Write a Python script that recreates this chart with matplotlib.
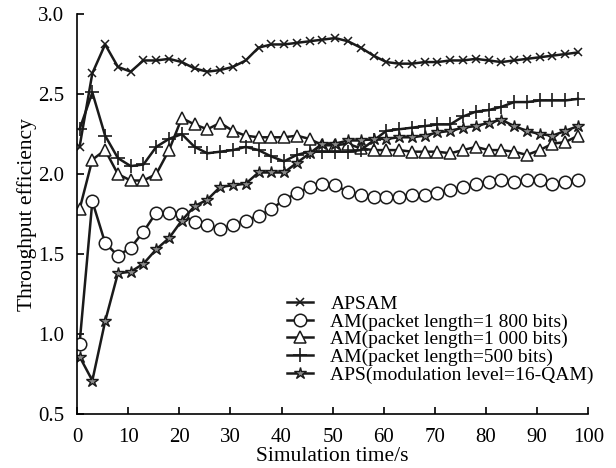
import matplotlib
matplotlib.use('Agg')
import matplotlib.pyplot as plt

plt.rcParams['font.family'] = ['Liberation Serif', 'DejaVu Serif']

# simulation time of each sample (s)
time_s = [0.5, 3, 5.5, 8, 10.5, 13, 15.5, 18, 20.5, 23,
          25.5, 28, 30.5, 33, 35.5, 38, 40.5, 43, 45.5, 48,
          50.5, 53, 55.5, 58, 60.5, 63, 65.5, 68, 70.5, 73,
          75.5, 78, 80.5, 83, 85.5, 88, 90.5, 93, 95.5, 98]

apsam = [2.17, 2.63, 2.81, 2.67, 2.64, 2.71, 2.71, 2.72, 2.70, 2.66,
         2.64, 2.65, 2.67, 2.71, 2.79, 2.81, 2.81, 2.82, 2.83, 2.84,
         2.85, 2.83, 2.79, 2.74, 2.70, 2.69, 2.69, 2.70, 2.70, 2.71,
         2.71, 2.72, 2.71, 2.70, 2.71, 2.72, 2.73, 2.74, 2.75, 2.76]

am_1800 = [0.94, 1.83, 1.57, 1.49, 1.54, 1.64, 1.76, 1.76, 1.75, 1.70,
           1.68, 1.66, 1.68, 1.71, 1.74, 1.78, 1.84, 1.88, 1.92, 1.94,
           1.93, 1.89, 1.87, 1.86, 1.86, 1.86, 1.87, 1.87, 1.88, 1.90,
           1.92, 1.94, 1.95, 1.96, 1.95, 1.96, 1.96, 1.94, 1.95, 1.96]

am_1000 = [1.78, 2.09, 2.15, 2.00, 1.96, 1.96, 2.00, 2.15, 2.35, 2.31,
           2.28, 2.32, 2.27, 2.24, 2.23, 2.23, 2.23, 2.24, 2.22, 2.18,
           2.18, 2.19, 2.16, 2.15, 2.15, 2.15, 2.14, 2.14, 2.14, 2.13,
           2.15, 2.17, 2.15, 2.15, 2.14, 2.12, 2.15, 2.19, 2.20, 2.24]

am_500 = [2.28, 2.51, 2.24, 2.10, 2.05, 2.06, 2.17, 2.22, 2.25, 2.17,
          2.13, 2.14, 2.15, 2.17, 2.15, 2.11, 2.08, 2.12, 2.14, 2.14,
          2.14, 2.14, 2.15, 2.21, 2.27, 2.28, 2.29, 2.30, 2.31, 2.31,
          2.36, 2.39, 2.40, 2.42, 2.45, 2.45, 2.46, 2.46, 2.46, 2.47]

aps_16qam = [0.86, 0.71, 1.08, 1.38, 1.39, 1.44, 1.53, 1.60, 1.71, 1.80,
             1.84, 1.92, 1.93, 1.94, 2.01, 2.01, 2.01, 2.07, 2.13, 2.19,
             2.19, 2.21, 2.21, 2.22, 2.22, 2.23, 2.23, 2.24, 2.26, 2.27,
             2.29, 2.30, 2.32, 2.34, 2.30, 2.27, 2.25, 2.24, 2.27, 2.30]

labels = ['APSAM',
          'AM(packet length=1 800 bits)',
          'AM(packet length=1 000 bits)',
          'AM(packet length=500 bits)',
          'APS(modulation level=16-QAM)']

fig = plt.figure(figsize=(6.16, 4.68), dpi=100)
ax = fig.add_axes([0.125, 0.115, 0.83, 0.855])

lw = 1.8
ink = '#1a1a1a'
ax.plot(time_s, apsam, color=ink, lw=lw, marker='x', ms=6, mew=1.1, label=labels[0])
ax.plot(time_s, am_1800, color=ink, lw=lw, marker='o', ms=9, mfc='white', mew=1.1, label=labels[1])
ax.plot(time_s, am_1000, color=ink, lw=lw, marker='^', ms=9, mfc='white', mew=1.1, label=labels[2])
ax.plot(time_s, am_500, color=ink, lw=lw, marker='+', ms=10, mew=1.2, label=labels[3])
ax.plot(time_s, aps_16qam, color=ink, lw=lw, marker='*', ms=9, mfc='#8a8a8a', mew=1.0, label=labels[4])

ax.set_xlim(0, 100)
ax.set_ylim(0.5, 3.0)
ax.set_xticks(range(0, 101, 10))
ax.set_yticks([0.5, 1.0, 1.5, 2.0, 2.5, 3.0])
ax.set_yticklabels(['0.5', '1.0', '1.5', '2.0', '2.5', '3.0'])
ax.spines['top'].set_visible(False)
ax.spines['right'].set_visible(False)
ax.spines['left'].set_linewidth(1.2)
ax.spines['bottom'].set_linewidth(1.2)
ax.tick_params(direction='in', length=5, width=1.2, labelsize=15)
ax.tick_params(axis='x', pad=10)
ax.tick_params(axis='y', pad=9)

ax.set_xlabel('Simulation time/s', fontsize=15.5, labelpad=0)
ax.set_ylabel('Throughput efficiency', fontsize=15.5, labelpad=1)

ax.legend(loc='upper left', bbox_to_anchor=(0.411, 0.297), frameon=False,
          fontsize=14, handlelength=1.35, handletextpad=0.88,
          labelspacing=0.0, borderpad=0, borderaxespad=0)

fig.savefig('out.png', dpi=100)
